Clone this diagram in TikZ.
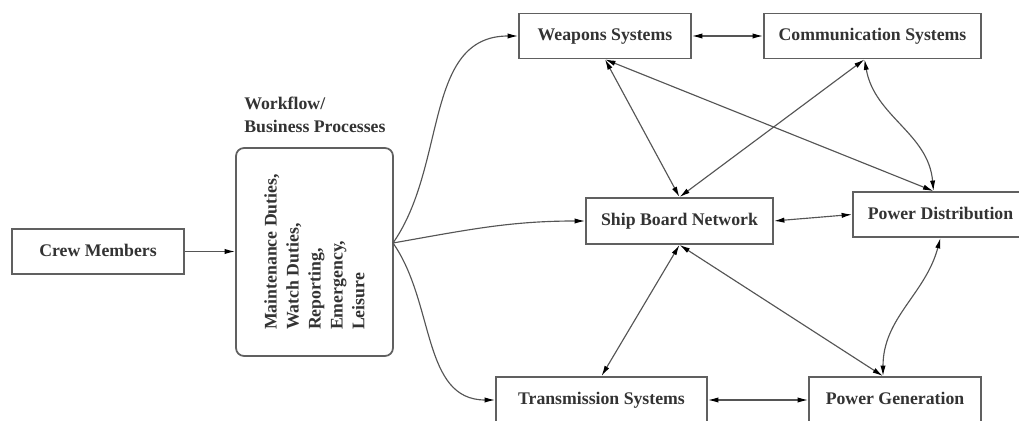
\documentclass[tikz,border=0pt]{standalone}
\usepackage{fontspec}
\setmainfont{Liberation Serif}
\usetikzlibrary{arrows.meta}
\usetikzlibrary{calc}
\definecolor{boxgray}{HTML}{606060}
\definecolor{txtgray}{HTML}{333333}
\definecolor{linegray}{HTML}{555555}

\begin{document}
\begin{tikzpicture}[x=0.02cm,y=-0.02cm,
    unit/.style={draw=boxgray,line width=1pt,fill=white,text=txtgray,
        font=\fontsize{10.1}{12.5}\selectfont\bfseries,minimum height=0.9cm,inner sep=2pt,
        text height=1.6ex,text depth=0.4ex},
    words/.style={text=txtgray,font=\fontsize{10.1}{12.5}\selectfont\bfseries,align=left},
    tip/.style={Latex[length=6pt,width=3pt,color=black]},
    link/.style={draw=linegray,line width=0.65pt,-{Latex[length=6pt,width=3pt,color=black]}},
    both/.style={link,{Latex[length=6pt,width=3pt,color=black]}-{Latex[length=6pt,width=3pt,color=black]}}
]
\useasboundingbox (0,0) rectangle (1019,421);

% Crew members and workflow box
\node[unit,minimum width=3.44cm] (crew) at (98,251.5) {Crew Members};
\node[unit,rounded corners=0.16cm,minimum width=3.14cm,minimum height=4.16cm] (flow) at (314.5,252) {};
\node[words,rotate=90] (flowtxt) at (flow.center)
    {Maintenance Duties,\\Watch Duties,\\Reporting,\\Emergency,\\Leisure};
\node[words,font=\fontsize{10.1}{13}\selectfont\bfseries,anchor=south west,inner sep=0pt] (flowlbl) at (244,133)
    {Workflow/\\Business Processes};

% Ship systems
\node[unit,minimum width=3.44cm] (weap) at (605,36) {Weapons Systems};
\node[unit,minimum width=4.34cm] (comm) at (872.5,36) {Communication Systems};
\node[unit,minimum width=3.74cm,minimum height=0.92cm] (ship) at (679.5,221) {Ship Board Network};
\node[unit,minimum width=3.5cm] (pdist) at (940.5,214.5) {Power Distribution};
\node[unit,minimum width=4.22cm,minimum height=0.92cm] (trans) at (601.5,400) {Transmission Systems};
\node[unit,minimum width=3.44cm,minimum height=0.92cm] (pgen) at (895,400) {Power Generation};

% connection points
\coordinate (fan) at (393,243);
\coordinate (commS) at ([xshift=-0.16cm]comm.south);
\coordinate (pdistN) at ([xshift=-0.14cm]pdist.north);
\coordinate (pgenN) at ([xshift=-0.24cm]pgen.north);

% crew into workflow, workflow out to the systems
\draw[link] (crew.east) -- (crew.east -| flow.west);
\draw[link] (fan) to[out=55,in=180] (weap.west);
\draw[link] (fan) to[out=10,in=180] (ship.west);
\draw[link] (fan) to[out=-55,in=180] (trans.west);

% links between systems
\draw[both] (weap.east) -- (comm.west);
\draw[both] (weap.south) -- (ship.north);
\draw[both] (weap.south) -- (pdistN);
\draw[both] (commS) -- (ship.north);
\draw[both] (commS) to[out=-80,in=95] (pdistN);
\draw[both] (ship.east) -- (pdist.west);
\draw[both] (ship.south) -- (trans.north);
\draw[both] (ship.south) -- (pgenN);
\draw[both] (pdist.south) to[out=-105,in=90] (pgenN);
\draw[both] (trans.east) -- (pgen.west);

\end{tikzpicture}
\end{document}
